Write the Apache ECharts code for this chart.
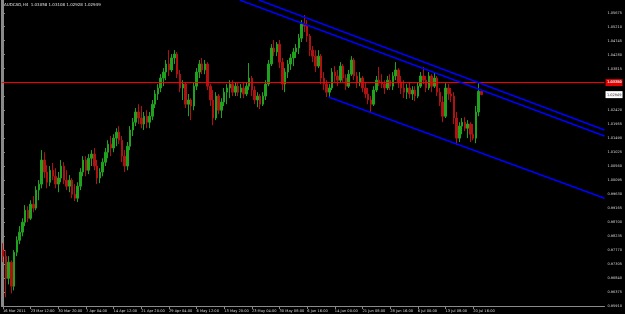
<!DOCTYPE html>
<html><head><meta charset="utf-8">
<script src="https://cdn.jsdelivr.net/npm/echarts@6/dist/echarts.min.js"></script>
<style>html,body{margin:0;padding:0;background:#000;}#c{width:625px;height:314px;}</style>
</head><body><div id="c"></div>
<script>
const titleText = 'AUDCAD,H4  1.03058 1.03108 1.02928 1.02949';
const xTickLabels = ['16 Mar 2011','23 Mar 12:00','30 Mar 20:00','7 Apr 04:00','14 Apr 12:00','21 Apr 20:00','29 Apr 04:00','6 May 12:00','13 May 20:00','23 May 04:00','30 May 08:00','6 Jun 16:00','14 Jun 00:00','21 Jun 08:00','28 Jun 16:00','6 Jul 00:00','13 Jul 08:00','20 Jul 16:00'];
const yTickValues = [0.95910,0.96375,0.96840,0.97305,0.97770,0.98235,0.98700,0.99165,0.99630,1.00095,1.00560,1.01025,1.01490,1.01955,1.02420,1.02885,1.03350,1.03815,1.04280,1.04745,1.05210,1.05675];
const slotsPerLabel = 10;
const totalSlots = 218;

const openP = [.9777,.9757,.9683,.9737,.9657,.9770,.9810,.9837,.9870,.9910,
.9883,.9930,.9917,.9977,.9997,1.0077,1.0037,1.0003,1.0043,1.0023,
.9997,1.0017,1.0057,1.0010,.9990,1.0010,.9963,.9950,.9990,1.0037,
1.0077,1.0043,1.0083,1.0097,1.0057,1.0017,1.0037,1.0070,1.0103,1.0130,
1.0117,1.0150,1.0170,1.0143,1.0090,1.0057,1.0123,1.0177,1.0203,1.0237,
1.0217,1.0197,1.0223,1.0203,1.0223,1.0263,1.0297,1.0317,1.0350,1.0370,
1.0397,1.0377,1.0417,1.0430,1.0363,1.0317,1.0330,1.0263,1.0277,1.0257,
1.0323,1.0370,1.0397,1.0377,1.0397,1.0323,1.0277,1.0217,1.0290,1.0243,
1.0270,1.0303,1.0317,1.0330,1.0303,1.0323,1.0303,1.0317,1.0297,1.0323,
1.0350,1.0310,1.0277,1.0290,1.0263,1.0290,1.0330,1.0397,1.0450,1.0437,
1.0463,1.0403,1.0330,1.0370,1.0397,1.0417,1.0437,1.0450,1.0483,1.0530,
1.0523,1.0490,1.0443,1.0423,1.0390,1.0423,1.0350,1.0330,1.0303,1.0317,
1.0370,1.0357,1.0343,1.0390,1.0350,1.0323,1.0363,1.0410,1.0357,1.0337,
1.0350,1.0317,1.0297,1.0277,1.0263,1.0310,1.0343,1.0337,1.0330,1.0317,
1.0343,1.0323,1.0357,1.0377,1.0337,1.0317,1.0303,1.0317,1.0297,1.0310,
1.0290,1.0323,1.0357,1.0343,1.0317,1.0357,1.0323,1.0350,1.0303,1.0270,
1.0223,1.0317,1.0297,1.0290,1.0217,1.0150,1.0190,1.0203,1.0183,1.0197,
1.0163,1.0150,1.0237,1.03058];
const highP = [.9800,.9777,.9757,.9743,.9777,.9823,.9857,.9883,.9927,.9923,
.9943,.9957,.9990,1.0010,1.0110,1.0103,1.0060,1.0057,1.0067,1.0050,
1.0037,1.0077,1.0070,1.0043,1.0027,1.0017,.9997,1.0003,1.0050,1.0090,
1.0090,1.0097,1.0110,1.0117,1.0077,1.0050,1.0083,1.0117,1.0143,1.0157,
1.0163,1.0183,1.0190,1.0157,1.0110,1.0137,1.0190,1.0217,1.0250,1.0263,
1.0257,1.0237,1.0243,1.0237,1.0277,1.0310,1.0330,1.0363,1.0383,1.0410,
1.0443,1.0430,1.0443,1.0437,1.0377,1.0343,1.0337,1.0297,1.0283,1.0337,
1.0383,1.0410,1.0417,1.0410,1.0403,1.0330,1.0310,1.0303,1.0297,1.0283,
1.0317,1.0330,1.0343,1.0343,1.0337,1.0337,1.0330,1.0337,1.0337,1.0400,
1.0357,1.0323,1.0303,1.0297,1.0303,1.0343,1.0410,1.0463,1.0477,1.0470,
1.0477,1.0417,1.0383,1.0410,1.0430,1.0450,1.0463,1.0497,1.0543,1.0560,
1.0543,1.0497,1.0457,1.0443,1.0443,1.0430,1.0370,1.0343,1.0330,1.0383,
1.0390,1.0377,1.0403,1.0397,1.0363,1.0377,1.0423,1.0417,1.0370,1.0370,
1.0357,1.0337,1.0317,1.0290,1.0323,1.0357,1.0387,1.0363,1.0343,1.0357,
1.0363,1.0370,1.0403,1.0383,1.0357,1.0343,1.0330,1.0337,1.0323,1.0323,
1.0337,1.0370,1.0387,1.0357,1.0370,1.0363,1.0367,1.0357,1.0317,1.0290,
1.0333,1.0330,1.0317,1.0303,1.0237,1.0203,1.0217,1.0220,1.0210,1.0203,
1.0197,1.0257,1.0333,1.03108];
const lowP = [.9737,.9620,.9663,.9633,.9643,.9757,.9797,.9823,.9857,.9870,
.9877,.9903,.9910,.9943,.9983,1.0017,.9983,.9990,1.0010,.9983,
.9970,1.0003,.9997,.9977,.9970,.9950,.9940,.9937,.9977,1.0023,
1.0023,1.0030,1.0057,1.0043,.9997,1.0000,1.0023,1.0057,1.0083,1.0090,
1.0103,1.0123,1.0130,1.0070,1.0037,1.0043,1.0110,1.0157,1.0190,1.0197,
1.0183,1.0177,1.0183,1.0183,1.0210,1.0250,1.0277,1.0303,1.0323,1.0343,
1.0357,1.0370,1.0397,1.0350,1.0303,1.0277,1.0250,1.0223,1.0210,1.0243,
1.0310,1.0350,1.0363,1.0363,1.0310,1.0257,1.0193,1.0210,1.0230,1.0217,
1.0257,1.0263,1.0283,1.0290,1.0290,1.0290,1.0283,1.0283,1.0290,1.0310,
1.0290,1.0263,1.0253,1.0247,1.0257,1.0277,1.0323,1.0390,1.0423,1.0423,
1.0383,1.0310,1.0303,1.0350,1.0377,1.0390,1.0417,1.0430,1.0470,1.0503,
1.0470,1.0423,1.0403,1.0370,1.0383,1.0330,1.0310,1.0287,1.0283,1.0310,
1.0337,1.0323,1.0337,1.0337,1.0310,1.0317,1.0357,1.0343,1.0317,1.0323,
1.0303,1.0283,1.0263,1.0237,1.0257,1.0303,1.0323,1.0317,1.0297,1.0310,
1.0310,1.0310,1.0343,1.0317,1.0297,1.0283,1.0280,1.0283,1.0277,1.0273,
1.0283,1.0317,1.0330,1.0303,1.0310,1.0303,1.0317,1.0290,1.0257,1.0203,
1.0217,1.0277,1.0270,1.0197,1.0127,1.0137,1.0163,1.0173,1.0150,1.0137,
1.0143,1.0133,1.0223,1.02928];
const closeP = [.9757,.9683,.9737,.9657,.9770,.9810,.9837,.9870,.9910,.9883,
.9930,.9917,.9977,.9997,1.0077,1.0037,1.0003,1.0043,1.0023,.9997,
1.0017,1.0057,1.0010,.9990,1.0010,.9963,.9950,.9990,1.0037,1.0077,
1.0043,1.0083,1.0097,1.0057,1.0017,1.0037,1.0070,1.0103,1.0130,1.0117,
1.0150,1.0170,1.0143,1.0090,1.0057,1.0123,1.0177,1.0203,1.0237,1.0217,
1.0197,1.0223,1.0203,1.0223,1.0263,1.0297,1.0317,1.0350,1.0370,1.0397,
1.0377,1.0417,1.0430,1.0363,1.0317,1.0330,1.0263,1.0277,1.0257,1.0323,
1.0370,1.0397,1.0377,1.0397,1.0323,1.0277,1.0217,1.0290,1.0243,1.0270,
1.0303,1.0317,1.0330,1.0303,1.0323,1.0303,1.0317,1.0297,1.0323,1.0350,
1.0310,1.0277,1.0290,1.0263,1.0290,1.0330,1.0397,1.0450,1.0437,1.0463,
1.0403,1.0330,1.0370,1.0397,1.0417,1.0437,1.0450,1.0483,1.0530,1.0523,
1.0490,1.0443,1.0423,1.0390,1.0423,1.0350,1.0330,1.0303,1.0317,1.0370,
1.0357,1.0343,1.0390,1.0350,1.0323,1.0363,1.0410,1.0357,1.0337,1.0350,
1.0317,1.0297,1.0277,1.0263,1.0310,1.0343,1.0337,1.0330,1.0317,1.0343,
1.0323,1.0357,1.0377,1.0337,1.0317,1.0303,1.0317,1.0297,1.0310,1.0290,
1.0323,1.0357,1.0343,1.0317,1.0357,1.0323,1.0350,1.0303,1.0270,1.0223,
1.0317,1.0297,1.0290,1.0217,1.0150,1.0190,1.0203,1.0183,1.0197,1.0163,
1.0150,1.0237,1.0306,1.02949];

// channel trendlines: [slot index, price] endpoints
const trendA = [[92.5, 1.0610], [217.5, 1.0177]];
const trendB = [[85.6, 1.0610], [217.5, 1.0157]];
const trendC = [[117.7, 1.0287], [217.5, 0.9950]];
const hLineLevel = 1.03350;
const yMin = 0.95910, yMax = 1.0610;

const categories = [];
for (let i = 0; i < totalSlots; i++) {
  const k = i / slotsPerLabel;
  categories.push(i % slotsPerLabel === 0 && k < xTickLabels.length ? xTickLabels[k] : '');
}
const candles = openP.map((o, i) => [o, closeP[i], lowP[i], highP[i]]);
const lastClose = closeP[closeP.length - 1];

const chart = echarts.init(document.getElementById('c'), null, {renderer: 'canvas'});
const up = '#1fa31f', down = '#b01212';
const FONT = '"DejaVu Sans"';
chart.setOption({
  backgroundColor: '#000000',
  animation: false,
  grid: {left: 1, right: 18, top: 0, bottom: 8, containLabel: false},
  xAxis: [{
    type: 'category', data: categories, boundaryGap: true,
    axisLine: {lineStyle: {color: '#8a8a8a', width: 1}},
    axisTick: {show: true, alignWithLabel: true, length: 3, interval: (i, v) => v !== '', lineStyle: {color: '#8a8a8a'}},
    axisLabel: {interval: 0, align: 'left', margin: 3, fontSize: 3.6, color: '#d8d8d8', fontFamily: 'DejaVu Sans'},
    splitLine: {show: false}
  }, {
    type: 'value', min: -0.5, max: totalSlots - 0.5, show: false
  }],
  yAxis: [{
    type: 'value', position: 'right', min: yMin, max: yMax, scale: true,
    axisLine: {show: true, lineStyle: {color: '#8a8a8a', width: 1}},
    axisTick: {show: true, length: 2, customValues: yTickValues, lineStyle: {color: '#8a8a8a'}},
    axisLabel: {customValues: yTickValues, formatter: v => v.toFixed(5), fontSize: 3.5, color: '#d8d8d8', margin: 3, align: 'left', fontFamily: 'DejaVu Sans'},
    splitLine: {show: false}
  }, {
    type: 'value', position: 'left', min: yMin, max: yMax,
    axisLine: {show: true, lineStyle: {color: '#8a8a8a', width: 2}},
    axisTick: {show: false}, axisLabel: {show: false}, splitLine: {show: false}
  }],
  series: [{
    type: 'candlestick', xAxisIndex: 0, yAxisIndex: 0, data: candles, barWidth: 2,
    itemStyle: {color: up, color0: down, borderColor: up, borderColor0: down, borderWidth: 1}
  },
  {type: 'line', xAxisIndex: 1, yAxisIndex: 0, data: [[-0.5, hLineLevel], [totalSlots - 0.5, hLineLevel]], symbol: 'none', lineStyle: {color: '#ff0000', width: 1}, silent: true},
  {type: 'line', xAxisIndex: 1, yAxisIndex: 0, data: trendA, symbol: 'none', lineStyle: {color: '#0000ff', width: 1.5}, silent: true},
  {type: 'line', xAxisIndex: 1, yAxisIndex: 0, data: trendB, symbol: 'none', lineStyle: {color: '#0000ff', width: 1.5}, silent: true},
  {type: 'line', xAxisIndex: 1, yAxisIndex: 0, data: trendC, symbol: 'none', lineStyle: {color: '#0000ff', width: 1.5}, silent: true}
  ]
});

// price tags on the right axis, positioned through the axis scale
const gridRight = chart.convertToPixel({xAxisIndex: 1}, totalSlots - 0.5);
function tag(value, bg, fg) {
  const y = chart.convertToPixel({yAxisIndex: 0}, value);
  return {type: 'group', x: gridRight + 1, y: y - 3.5, children: [
    {type: 'rect', shape: {x: 0, y: 0, width: 17, height: 7}, style: {fill: bg}},
    {type: 'text', x: 1.5, y: 1.5, style: {text: value.toFixed(5), fill: fg, font: '3.5px ' + FONT}}
  ]};
}
chart.setOption({graphic: [
  {type: 'text', left: 4, top: 3, style: {text: titleText, fill: '#e0e0e0', font: '4px ' + FONT}},
  tag(hLineLevel, '#e00000', '#ffffff'),
  tag(lastClose, '#ffffff', '#000000')
]});
</script></body></html>
